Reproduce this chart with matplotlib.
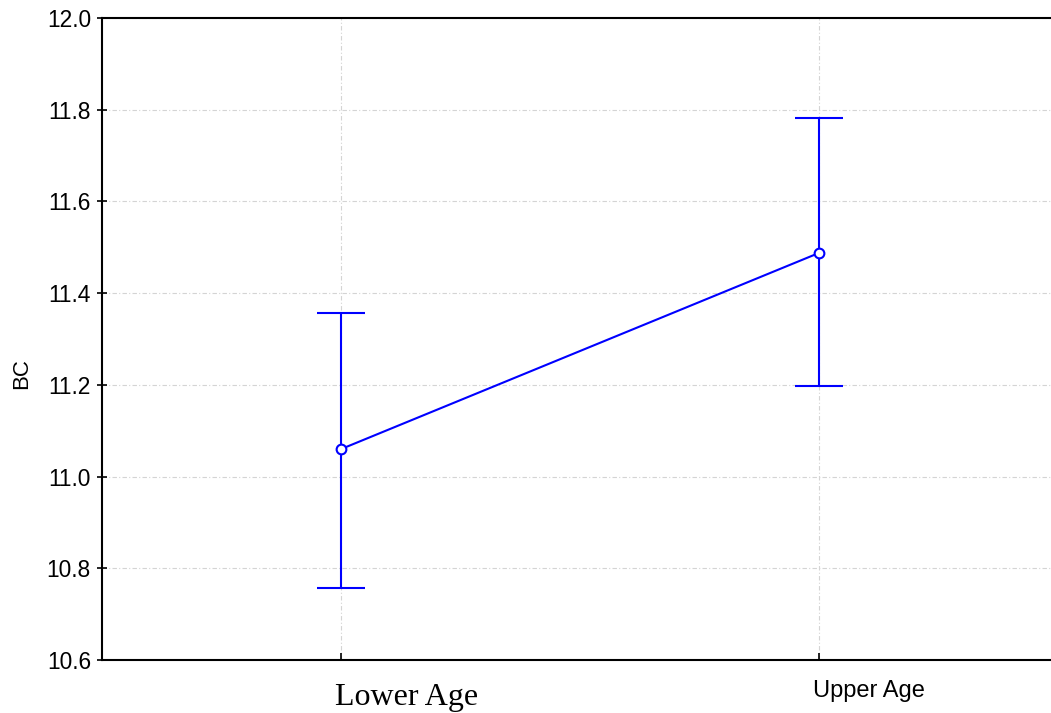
import matplotlib.pyplot as plt

groups = ["Lower Age", "Upper Age"]
means = [11.060, 11.488]
lower = [10.757, 11.198]
upper = [11.357, 11.782]
yticks = [10.6, 10.8, 11.0, 11.2, 11.4, 11.6, 11.8, 12.0]

fig = plt.figure(figsize=(10.51, 7.13), dpi=100)
# axes run a bit past the right edge, like the original export
ax = fig.add_axes([102 / 1051, 53 / 713, 956.5 / 1051, 642 / 713])

x = [1, 2]
yerr = [[m - lo for m, lo in zip(means, lower)], [hi - m for m, hi in zip(means, upper)]]
ax.errorbar(x, means, yerr=yerr, color="#0000ff", lw=1.5, elinewidth=1.5,
            capsize=17.5, capthick=1.5, marker="o", markersize=7,
            markerfacecolor="white", markeredgecolor="#0000ff", markeredgewidth=1.5,
            zorder=3)

ax.set_xlim(0.5, 2.5)
ax.set_ylim(10.6, 12.0)
ax.set_xticks(x)
ax.set_xticklabels([])
ax.set_yticks(yticks)
ax.set_yticklabels([f"{v:.1f}" for v in yticks], fontsize=16.4, family="Liberation Sans")
ax.set_ylabel("BC", fontsize=16, family="Liberation Sans")
ax.yaxis.set_label_coords(-0.0732, 0.4455)

# category labels: left-aligned just before the tick, mixed fonts as in the original
label_styles = [("Liberation Serif", 23, -32.4), ("Liberation Sans", 17, -26.6)]
for xi, name, (fam, size, dy) in zip(x, groups, label_styles):
    ax.annotate(name, xy=(xi, 0), xycoords=("data", "axes fraction"),
                xytext=(-4.5, dy), textcoords="offset points",
                ha="left", va="baseline", family=fam, fontsize=size)

ax.grid(True, color="#d4d4d4", lw=0.8, linestyle=(0, (4, 2, 1, 2)))
for side in ["top", "left", "bottom"]:
    ax.spines[side].set_linewidth(1.5)
ax.spines["right"].set_visible(False)
ax.tick_params(axis="y", direction="inout", length=7, width=1.2, pad=4.5)
ax.tick_params(axis="x", direction="in", length=5, width=1.2)

fig.savefig("out.png", dpi=100)
